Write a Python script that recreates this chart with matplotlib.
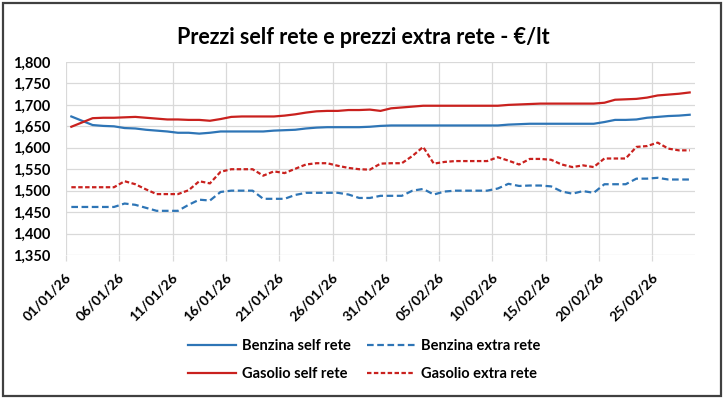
import numpy as np
import pandas as pd
import matplotlib
matplotlib.use("Agg")
import matplotlib.pyplot as plt
import matplotlib.dates as mdates
import matplotlib.transforms as mtransforms
from matplotlib.patches import Rectangle

# dati giornalieri 01/01/26 - 28/02/26
giorni = pd.date_range("2026-01-01", periods=59, freq="D")

benzina_self = [1.673, 1.663, 1.653, 1.651, 1.650, 1.646, 1.645, 1.642, 1.640, 1.638,
                1.635, 1.635, 1.633, 1.635, 1.638, 1.638, 1.638, 1.638, 1.638, 1.640,
                1.641, 1.642, 1.645, 1.647, 1.648, 1.648, 1.648, 1.648, 1.649, 1.651,
                1.652, 1.652, 1.652, 1.652, 1.652, 1.652, 1.652, 1.652, 1.652, 1.652,
                1.652, 1.654, 1.655, 1.656, 1.656, 1.656, 1.656, 1.656, 1.656, 1.656,
                1.660, 1.665, 1.665, 1.666, 1.670, 1.672, 1.674, 1.675, 1.677]

benzina_extra = [1.462, 1.462, 1.462, 1.462, 1.462, 1.470, 1.467, 1.460, 1.453, 1.453,
                 1.453, 1.467, 1.479, 1.477, 1.497, 1.500, 1.500, 1.500, 1.481, 1.481,
                 1.481, 1.490, 1.495, 1.495, 1.495, 1.495, 1.491, 1.483, 1.483, 1.488,
                 1.488, 1.488, 1.500, 1.504, 1.491, 1.498, 1.500, 1.500, 1.500, 1.500,
                 1.505, 1.516, 1.511, 1.512, 1.512, 1.510, 1.498, 1.493, 1.499, 1.495,
                 1.515, 1.515, 1.515, 1.528, 1.528, 1.530, 1.526, 1.526, 1.526]

gasolio_self = [1.649, 1.659, 1.669, 1.670, 1.670, 1.671, 1.672, 1.670, 1.668, 1.666,
                1.666, 1.665, 1.665, 1.663, 1.667, 1.672, 1.673, 1.673, 1.673, 1.673,
                1.675, 1.678, 1.682, 1.685, 1.686, 1.686, 1.688, 1.688, 1.689, 1.686,
                1.692, 1.694, 1.696, 1.698, 1.698, 1.698, 1.698, 1.698, 1.698, 1.698,
                1.698, 1.700, 1.701, 1.702, 1.703, 1.703, 1.703, 1.703, 1.703, 1.703,
                1.705, 1.712, 1.713, 1.714, 1.717, 1.722, 1.724, 1.726, 1.729]

gasolio_extra = [1.508, 1.508, 1.508, 1.508, 1.508, 1.522, 1.515, 1.503, 1.492, 1.492,
                 1.492, 1.501, 1.522, 1.517, 1.544, 1.550, 1.550, 1.550, 1.535, 1.545,
                 1.541, 1.551, 1.561, 1.564, 1.564, 1.558, 1.553, 1.550, 1.549, 1.563,
                 1.564, 1.564, 1.581, 1.602, 1.563, 1.567, 1.569, 1.569, 1.569, 1.569,
                 1.578, 1.570, 1.561, 1.574, 1.574, 1.572, 1.561, 1.555, 1.559, 1.555,
                 1.575, 1.575, 1.575, 1.602, 1.604, 1.612, 1.598, 1.594, 1.594]

blu = "#2E75B6"
rosso = "#C9211E"
griglia = "#D9D9D9"

plt.rcParams["font.family"] = ["Lato", "DejaVu Sans"]
plt.rcParams["font.weight"] = "bold"

fig = plt.figure(figsize=(7.26, 3.99), dpi=100)
ax = fig.add_axes([66 / 726, 1 - 255 / 399, (695 - 66) / 726, (255 - 62) / 399])

# punti al centro di ogni giorno (asse date di Excel)
x = giorni + pd.Timedelta(hours=12)
l1, = ax.plot(x, benzina_self, color=blu, lw=1.6, label="Benzina self rete")
l2, = ax.plot(x, benzina_extra, color=blu, lw=1.6, dashes=(3.0, 1.6), label="Benzina extra rete")
l3, = ax.plot(x, gasolio_self, color=rosso, lw=1.6, label="Gasolio self rete")
l4, = ax.plot(x, gasolio_extra, color=rosso, lw=1.6, dashes=(2.0, 1.1), label="Gasolio extra rete")

ax.set_xlim(pd.Timestamp("2026-01-01"), pd.Timestamp("2026-03-01"))
ax.set_ylim(1.35, 1.80)
ax.set_yticks(np.arange(1.35, 1.801, 0.05))
ax.yaxis.set_major_formatter(lambda v, p: f"{v:.3f}".replace(".", ","))

tick_date = pd.date_range("2026-01-01", "2026-02-25", freq="5D")
ax.set_xticks(tick_date)
ax.xaxis.set_major_formatter(mdates.DateFormatter("%d/%m/%y"))

ax.grid(True, color=griglia, lw=0.9)
ax.set_axisbelow(True)
for s in ax.spines.values():
    s.set_visible(False)

ax.tick_params(axis="y", length=0, pad=11, labelsize=10.5)
ax.tick_params(axis="x", length=4, color=griglia, width=0.9, pad=10.5, labelsize=10)
offset = mtransforms.ScaledTranslation(3 / 100, 0, fig.dpi_scale_trans)
for lab in ax.get_xticklabels():
    lab.set_rotation(45)
    lab.set_ha("right")
    lab.set_va("center")
    lab.set_rotation_mode("anchor")
    lab.set_transform(lab.get_transform() + offset)

fig.text(0.5, 1 - 37 / 399, "Prezzi self rete e prezzi extra rete - €/lt",
         ha="center", va="center", fontsize=15.5, fontweight="bold")

# ordine per colonne: riga 1 benzina, riga 2 gasolio
fig.legend([l1, l3, l2, l4], [l1.get_label(), l3.get_label(), l2.get_label(), l4.get_label()],
           ncol=2, loc="center", bbox_to_anchor=(364 / 726, 1 - 360 / 399),
           frameon=False, fontsize=10.5, handlelength=3.3, handletextpad=0.4,
           columnspacing=1.1, labelspacing=1.0)

fig.patches.append(Rectangle((3 / 726, 3 / 399), 718 / 726, 393 / 399, transform=fig.transFigure,
                             fill=False, edgecolor="#404040", lw=1.6))

fig.savefig("out.png", dpi=100)
